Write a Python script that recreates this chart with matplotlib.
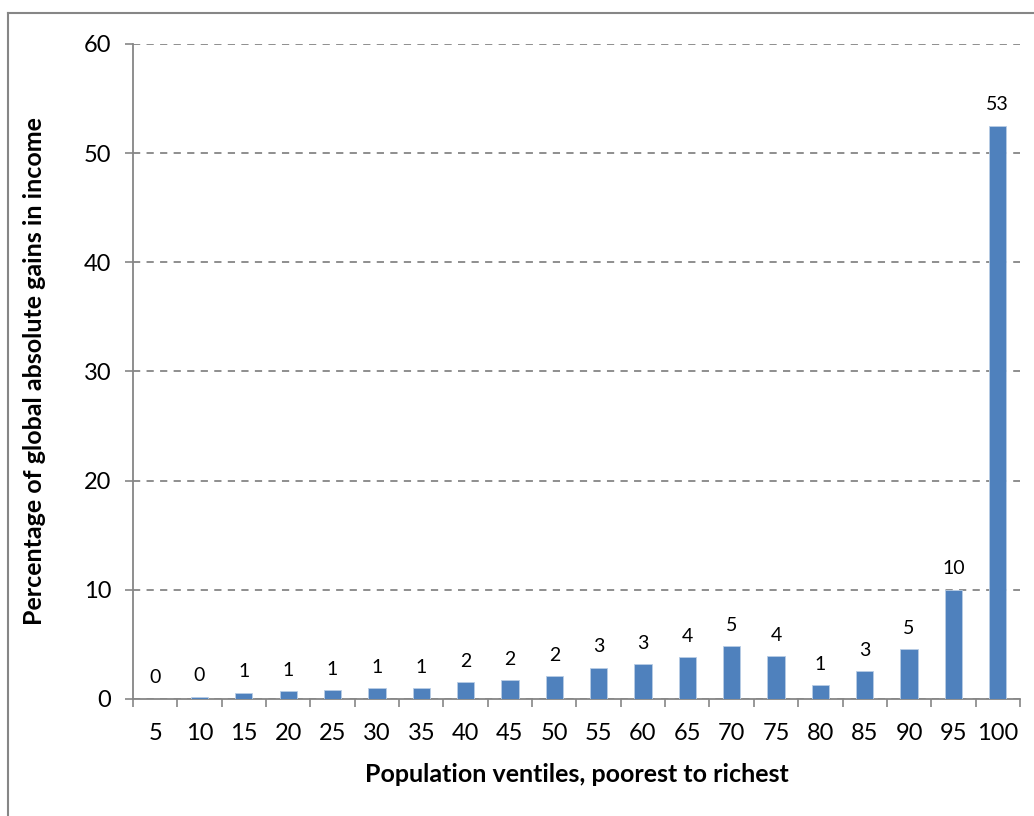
import matplotlib.pyplot as plt
from matplotlib.lines import Line2D

# Datos
ventiles = ['5', '10', '15', '20', '25', '30', '35', '40', '45', '50',
            '55', '60', '65', '70', '75', '80', '85', '90', '95', '100']
gains = [0.02, 0.21, 0.58, 0.70, 0.82, 1.0, 1.0, 1.53, 1.71, 2.08,
         2.84, 3.2, 3.84, 4.82, 3.9, 1.25, 2.53, 4.55, 10.0, 52.5]
labels = ['0', '0', '1', '1', '1', '1', '1', '2', '2', '2',
          '3', '3', '4', '5', '4', '1', '3', '5', '10', '53']

plt.rcParams['font.family'] = ['Lato', 'DejaVu Sans']
gray = '#868686'

fig = plt.figure(figsize=(10.34, 8.16), dpi=100)
ax = fig.add_axes([0.1286, 0.1434, 0.8578, 0.8027])

x = list(range(len(ventiles)))
ax.bar(x, gains, width=0.39, color='#4F81BD', edgecolor='#B9CDE5', linewidth=0.6, zorder=3)

for xi, v, lab in zip(x, gains, labels):
    ax.annotate(lab, (xi, v), xytext=(0, 9), textcoords='offset points',
                ha='center', va='bottom', fontsize=14)

ax.set_xlim(-0.5, len(ventiles) - 0.5)
ax.set_ylim(0, 60)
ax.set_yticks(range(0, 61, 10))
ax.yaxis.grid(True, linestyle=(0, (4, 3.5)), color=gray, linewidth=1.3, zorder=0)

# ticks entre categorías (estilo Excel)
ax.set_xticks([i - 0.5 for i in range(len(ventiles) + 1)])
ax.set_xticklabels([])
ax.set_xticks(x, minor=True)
ax.set_xticklabels(ventiles, minor=True, fontsize=17)
ax.tick_params(axis='x', which='major', direction='out', length=5.5, color=gray, width=1.2)
ax.tick_params(axis='x', which='minor', length=0, pad=17)
ax.tick_params(axis='y', direction='out', length=5.5, color=gray, width=1.2,
               labelsize=17, pad=10)

for s in ['top', 'right']:
    ax.spines[s].set_visible(False)
for s in ['left', 'bottom']:
    ax.spines[s].set_color(gray)
    ax.spines[s].set_linewidth(1.3)

ax.set_xlabel('Population ventiles, poorest to richest', fontsize=18, fontweight='bold')
ax.set_ylabel('Percentage of global absolute gains in income', fontsize=18, fontweight='bold')
ax.xaxis.set_label_coords(0.5, -0.098)
ax.yaxis.set_label_coords(-0.098, 0.5)

# marco del área del gráfico
fig.add_artist(Line2D([8 / 1034, 8 / 1034], [0, 1 - 13 / 816], transform=fig.transFigure,
                      color=gray, linewidth=1.5))
fig.add_artist(Line2D([8 / 1034, 1], [1 - 13 / 816, 1 - 13 / 816], transform=fig.transFigure,
                      color=gray, linewidth=1.5))

plt.savefig('out.png', dpi=100)
